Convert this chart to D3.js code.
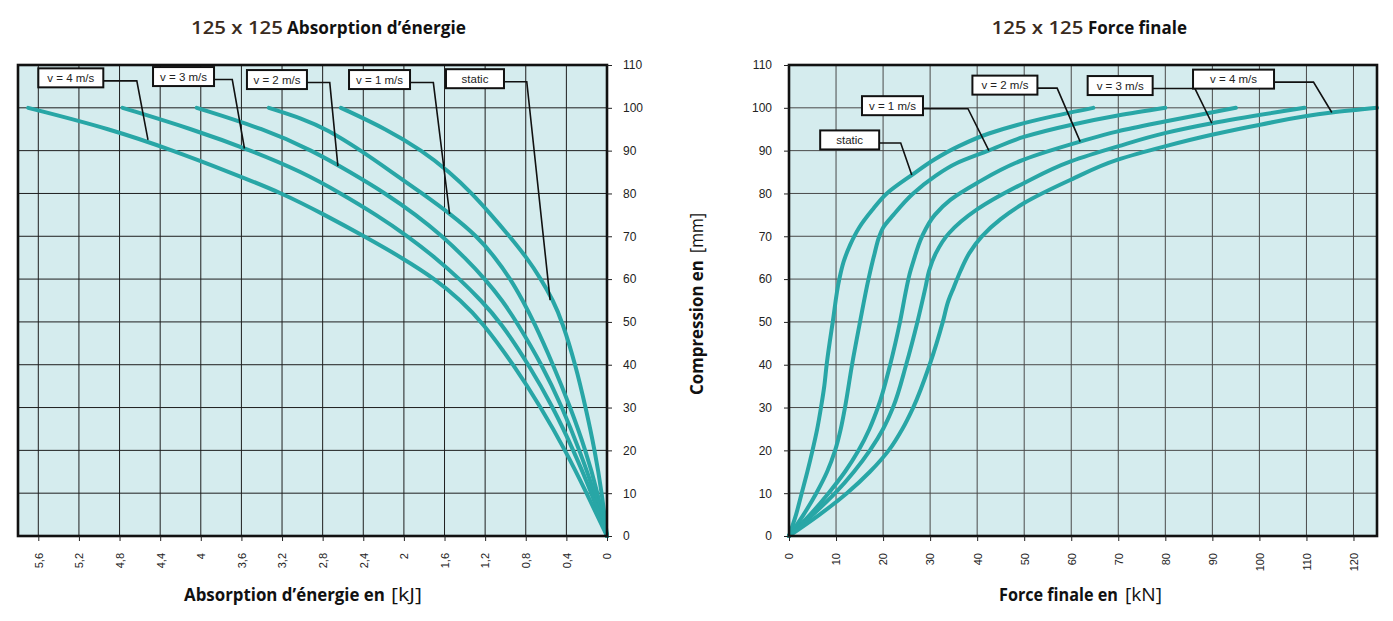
<!DOCTYPE html>
<html>
<head>
<meta charset="utf-8">
<script src="https://cdn.jsdelivr.net/npm/d3@7"></script>
<style>
  body { margin: 0; background: #fff; }
  svg text { font-family: "Liberation Sans", Arial, sans-serif; }
  svg text.titre { font-family: "Open Sans", sans-serif; }
</style>
</head>
<body>
<svg id="chart" width="1393" height="621"></svg>

<script>
  // ticks
  var energieTicks = [0, 0.4, 0.8, 1.2, 1.6, 2, 2.4, 2.8, 3.2, 3.6, 4, 4.4, 4.8, 5.2, 5.6];
  var forceTicks = [0, 10, 20, 30, 40, 50, 60, 70, 80, 90, 100, 110, 120];
  var compressionTicks = [0, 10, 20, 30, 40, 50, 60, 70, 80, 90, 100, 110];

  var courbes = ["static", "v = 1 m/s", "v = 2 m/s", "v = 3 m/s", "v = 4 m/s"];

  // [compression mm, energie kJ]
  var energieStatic = [[0,0],[10,0.05],[20,0.12],[30,0.21],[40,0.31],[50,0.44],[55,0.53],[60,0.65],[65,0.79],[70,0.96],[75,1.14],[80,1.33],[85,1.55],[90,1.82],[95,2.17],[100,2.62]];
  var energieV1 = [[0,0],[10,0.09],[20,0.21],[30,0.36],[40,0.53],[50,0.72],[55,0.83],[60,0.95],[65,1.1],[70,1.28],[75,1.53],[80,1.82],[85,2.12],[90,2.42],[95,2.76],[97.5,3.0],[100,3.33]];
  var energieV2 = [[0,0],[10,0.12],[20,0.27],[30,0.44],[40,0.64],[50,0.89],[55,1.03],[60,1.2],[65,1.4],[70,1.62],[75,1.88],[80,2.18],[85,2.53],[90,2.9],[95,3.37],[100,4.04]];
  var energieV3 = [[0,0],[10,0.15],[20,0.33],[30,0.53],[40,0.77],[50,1.05],[55,1.24],[60,1.45],[65,1.69],[70,1.96],[75,2.27],[80,2.62],[85,3.0],[90,3.5],[95,4.08],[100,4.77]];
  var energieV4 = [[0,0],[10,0.2],[20,0.41],[30,0.65],[40,0.92],[50,1.23],[55,1.44],[60,1.69],[65,2.02],[70,2.39],[75,2.78],[80,3.19],[85,3.72],[90,4.27],[95,4.88],[100,5.7]];

  // [compression mm, force kN]
  var forceStatic = [[0,0],[5,1.5],[10,2.7],[15,3.9],[20,5.0],[25,6.0],[30,6.8],[35,7.5],[40,8.0],[50,9.3],[60,10.7],[64,11.6],[68,13],[72,14.9],[76,17.6],[80,20.8],[84.3,26.1],[88,31],[91,36],[94,42.5],[96,48.5],[98,56],[100,64.7]];
  var forceV1 = [[0,0],[5,3.1],[10,5.8],[15,8.1],[20,9.8],[25,11],[30,11.9],[40,13.4],[50,15.1],[60,16.9],[66,18.2],[70,19.2],[72,20],[75,22.2],[80,26.4],[84,31],[87,35.5],[90,42.4],[93.2,49.9],[96,59.9],[98.2,69.9],[100,80]];
  var forceV2 = [[0,0],[5,4.5],[10,8.4],[15,11.9],[20,14.8],[25,17.1],[30,18.9],[40,21.5],[50,23.6],[58,25],[61,25.6],[64,26.4],[70,28.3],[75,31],[78.5,34.3],[82.4,39.9],[87.9,49.9],[92.1,61.9],[94.5,69.9],[96.8,79.9],[100,95]];
  var forceV3 = [[0,0],[5,5.1],[10,9.8],[15,13.8],[20,17.2],[25,20],[30,22.1],[40,24.9],[50,27.3],[58,29],[62,29.8],[66,31.2],[70.7,34],[76.2,39.9],[82.4,49.9],[87.5,59.9],[91,69.9],[94.1,79.9],[96.4,89.9],[100,109.6]];
  var forceV4 = [[0,0],[5,6.5],[10,12.3],[15,17.2],[20,21.2],[25,24.1],[30,26.4],[40,29.9],[50,32.7],[55,33.9],[58,35],[62,36.5],[66,38.3],[70,41],[74,45],[77.7,49.9],[83.2,59.9],[87.9,69.9],[91,79.9],[93.7,89.9],[96,99.9],[98.9,115.4],[100,125]];

  // etiquettes: centre [x, compression], coude x, pointe [x, compression]
  var energieLabels = [
    {txt: "v = 4 m/s", at: [5.28, 107.0], w: 65, coude: 4.63, pointe: [4.52, 92.5]},
    {txt: "v = 3 m/s", at: [4.17, 107.3], w: 61, coude: 3.69, pointe: [3.57, 90.5]},
    {txt: "v = 2 m/s", at: [3.25, 106.6], w: 60, coude: 2.73, pointe: [2.65, 86.4]},
    {txt: "v = 1 m/s", at: [2.24, 106.6], w: 61, coude: 1.71, pointe: [1.55, 75.2]},
    {txt: "static",    at: [1.30, 106.8], w: 58, coude: 0.79, pointe: [0.56, 55.1]}
  ];
  var forceLabels = [
    {txt: "static",    at: [12.9, 92.5],  w: 59, coude: 23.75, pointe: [26.1, 84.3]},
    {txt: "v = 1 m/s", at: [22.0, 100.5], w: 61, coude: 38.05, pointe: [42.5, 90.0]},
    {txt: "v = 2 m/s", at: [45.9, 105.3], w: 65, coude: 57.0,  pointe: [61.9, 92.1]},
    {txt: "v = 3 m/s", at: [70.4, 105.2], w: 65, coude: 86.3,  pointe: [89.9, 96.4]},
    {txt: "v = 4 m/s", at: [94.5, 106.7], w: 81, coude: 111.5, pointe: [115.4, 98.9]}
  ];

  var svg = d3.select("#chart");

  var y = d3.scaleLinear().domain([0, 110]).range([536, 65]);
  var xE = d3.scaleLinear().domain([5.8, 0]).range([18, 607]);
  var xF = d3.scaleLinear().domain([0, 125]).range([789, 1377]);

  var virgule = function(d) { return String(d).replace(".", ","); };

  function panneau(x, xTicks, fmt, series, labels, yCote, grille, courbe) {
    var g = svg.append("g");
    var x0 = x.range()[0], x1 = x.range()[1];

    g.append("rect")
      .attr("x", x0).attr("y", y(110))
      .attr("width", x1 - x0).attr("height", y(0) - y(110))
      .attr("fill", "#d5ecee");

    g.selectAll(".gv").data(xTicks).enter().append("line")
      .attr("x1", function(d) { return x(d); }).attr("x2", function(d) { return x(d); })
      .attr("y1", y(110)).attr("y2", y(0))
      .attr("stroke", grille).attr("stroke-width", 1);
    g.selectAll(".gh").data(compressionTicks.slice(1, -1)).enter().append("line")
      .attr("x1", x0).attr("x2", x1)
      .attr("y1", function(d) { return y(d); }).attr("y2", function(d) { return y(d); })
      .attr("stroke", grille).attr("stroke-width", 1);

    var ligne = d3.line()
      .x(function(d) { return x(d[1]); })
      .y(function(d) { return y(d[0]); })
      .curve(courbe);

    g.selectAll(".courbe").data(series).enter().append("path")
      .attr("d", ligne)
      .attr("fill", "none")
      .attr("stroke", "#28a6a6")
      .attr("stroke-width", 4)
      .attr("stroke-linecap", "round");

    g.append("rect")
      .attr("x", x0).attr("y", y(110))
      .attr("width", x1 - x0).attr("height", y(0) - y(110))
      .attr("fill", "none").attr("stroke", "#111").attr("stroke-width", 2.6);

    // axe x
    var ax = g.append("g")
      .attr("transform", "translate(0," + y(0) + ")")
      .call(d3.axisBottom(x).tickValues(xTicks).tickSize(5).tickFormat(fmt));
    ax.select(".domain").remove();
    ax.selectAll("line").attr("stroke", "#222");
    ax.selectAll("text")
      .attr("transform", "rotate(-90)")
      .attr("x", -17).attr("y", 0).attr("dy", "0.35em")
      .style("text-anchor", "end")
      .style("font-size", "11px")
      .style("font-family", "'Liberation Sans', Arial, sans-serif")
      .attr("fill", "#222");

    // axe y
    var axeY = yCote === "right" ? d3.axisRight(y) : d3.axisLeft(y);
    var ay = g.append("g")
      .attr("transform", "translate(" + (yCote === "right" ? x1 : x0) + ",0)")
      .call(axeY.tickValues(compressionTicks).tickSize(5).tickPadding(yCote === "right" ? 11 : 12));
    ay.select(".domain").remove();
    ay.selectAll("line").attr("stroke", "#222");
    ay.selectAll("text")
      .style("font-size", "12px")
      .style("font-family", "'Liberation Sans', Arial, sans-serif")
      .attr("fill", "#222");

    // etiquettes
    labels.forEach(function(l) {
      var cx = x(l.at[0]), cy = y(l.at[1]);
      var ly = cy + 3;
      g.append("polyline")
        .attr("points", [[cx + l.w / 2, ly], [x(l.coude), ly], [x(l.pointe[0]), y(l.pointe[1])]].join(" "))
        .attr("fill", "none").attr("stroke", "#111").attr("stroke-width", 1.6);
      g.append("rect")
        .attr("x", cx - l.w / 2).attr("y", cy - 9.5)
        .attr("width", l.w).attr("height", 19)
        .attr("fill", "#fff").attr("stroke", "#111").attr("stroke-width", 2);
      g.append("text")
        .attr("x", cx).attr("y", cy).attr("dy", "0.35em")
        .attr("text-anchor", "middle")
        .style("font-size", "11.5px")
        .attr("fill", "#222")
        .text(l.txt);
    });
  }

  panneau(xE, energieTicks, virgule,
    [energieStatic, energieV1, energieV2, energieV3, energieV4], energieLabels, "right", "#1e1e1e", d3.curveBasis);
  panneau(xF, forceTicks, d3.format("d"),
    [forceStatic, forceV1, forceV2, forceV3, forceV4], forceLabels, "left", "#4a4a4a", d3.curveMonotoneY);

  // titres (morceaux places bout a bout, compresses en largeur)
  function morceau(txt, x, by, len, size, poids, couleur, rot) {
    var t = svg.append("text")
      .attr("class", "titre")
      .attr("font-weight", poids)
      .attr("fill", couleur)
      .style("font-size", size + "px")
      .text(txt);
    var k = len / t.node().getComputedTextLength();
    t.attr("transform", "translate(" + x + "," + by + ")" + (rot ? " rotate(-90)" : "") + " scale(" + k + ",1)");
  }

  morceau("125 x 125", 191, 34, 92, 17.5, 600, "#3a2b20");
  morceau("Absorption d\u2019énergie", 287, 34, 179, 17.5, 700, "#111");
  morceau("125 x 125", 991.5, 34, 92, 17.5, 600, "#3a2b20");
  morceau("Force finale", 1088, 34, 99, 17.5, 700, "#111");

  morceau("Absorption d\u2019énergie en", 184, 601, 201, 18, 700, "#111");
  morceau("[kJ]", 391, 601, 31, 19, 400, "#111");
  morceau("Force finale en", 999, 601, 119, 18, 700, "#111");
  morceau("[kN]", 1125, 601, 37, 19, 400, "#111");

  morceau("Compression en", 703, 395, 135, 18, 700, "#111", true);
  morceau("[mm]", 703, 253, 40, 19, 400, "#111", true);
</script>
</body>
</html>
